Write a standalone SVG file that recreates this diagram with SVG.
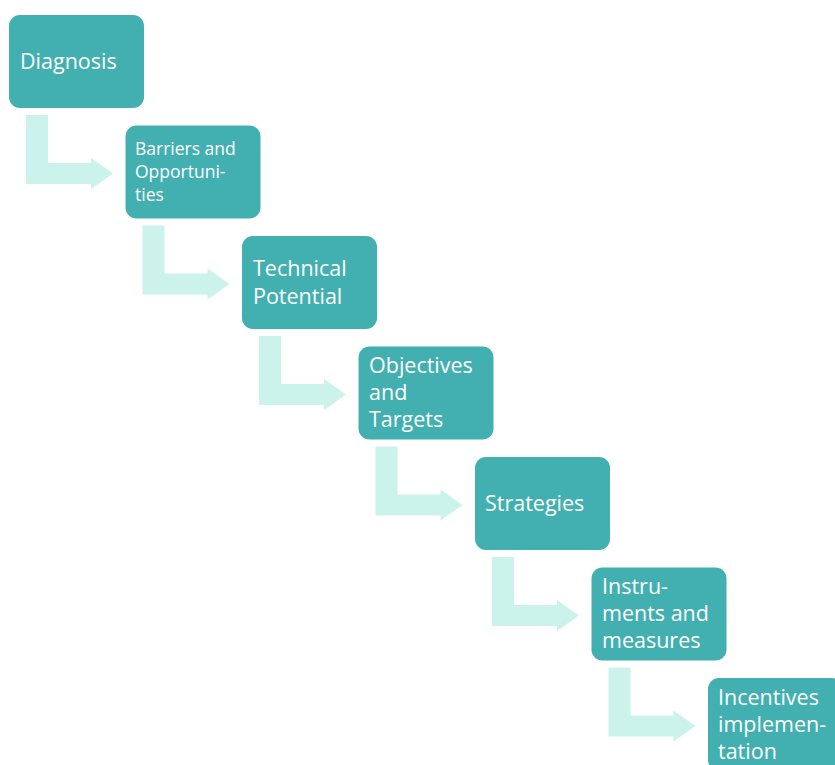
<svg xmlns="http://www.w3.org/2000/svg" width="835" height="765" viewBox="0 0 835 765">
<style>
.box{fill:#42B0B0}
.arr{fill:#CCF2EC}
text{fill:#FFFFFF;font-family:"Open Sans","Liberation Sans",sans-serif;font-size:21.5px}
.s{font-size:17.5px}
</style>
<defs>
<path id="bent" d="M26,115 H48 V163 H91 V158 L113,173.5 L91,189 V184 H26 Z"/>
</defs>
<rect width="835" height="765" fill="#FFFFFF"/>
<g id="connectors">
<use href="#bent" class="arr"/>
<use href="#bent" class="arr" transform="translate(116.5,110.5)"/>
<use href="#bent" class="arr" transform="translate(233,221)"/>
<use href="#bent" class="arr" transform="translate(349.5,331.5)"/>
<use href="#bent" class="arr" transform="translate(466,442)"/>
<use href="#bent" class="arr" transform="translate(582.5,552.5)"/>
</g>
<g id="diagnosis">
<rect class="box" x="9" y="15" width="135" height="93" rx="11"/>
<text x="20" y="69">Diagnosis</text>
</g>
<g id="barriers">
<rect class="box" x="125.5" y="125.5" width="135" height="93" rx="11"/>
<text class="s" x="135" y="155">Barriers and</text>
<text class="s" x="135" y="178">Opportuni-</text>
<text class="s" x="135" y="201">ties</text>
</g>
<g id="technical">
<rect class="box" x="242" y="236" width="135" height="93" rx="11"/>
<text x="253" y="276">Technical</text>
<text x="253" y="304">Potential</text>
</g>
<g id="objectives">
<rect class="box" x="358.5" y="346.5" width="135" height="93" rx="11"/>
<text x="369" y="373">Objectives</text>
<text x="369" y="400">and</text>
<text x="369" y="427">Targets</text>
</g>
<g id="strategies">
<rect class="box" x="475" y="457" width="135" height="93" rx="11"/>
<text x="485" y="511">Strategies</text>
</g>
<g id="instruments">
<rect class="box" x="591.5" y="567.5" width="135" height="93" rx="11"/>
<text x="602" y="594">Instru-</text>
<text x="602" y="621">ments and</text>
<text x="602" y="648">measures</text>
</g>
<g id="incentives">
<rect class="box" x="708" y="678" width="135" height="93" rx="11"/>
<text x="718" y="705">Incentives</text>
<text x="718" y="732">implemen-</text>
<text x="718" y="759">tation</text>
</g>
</svg>
